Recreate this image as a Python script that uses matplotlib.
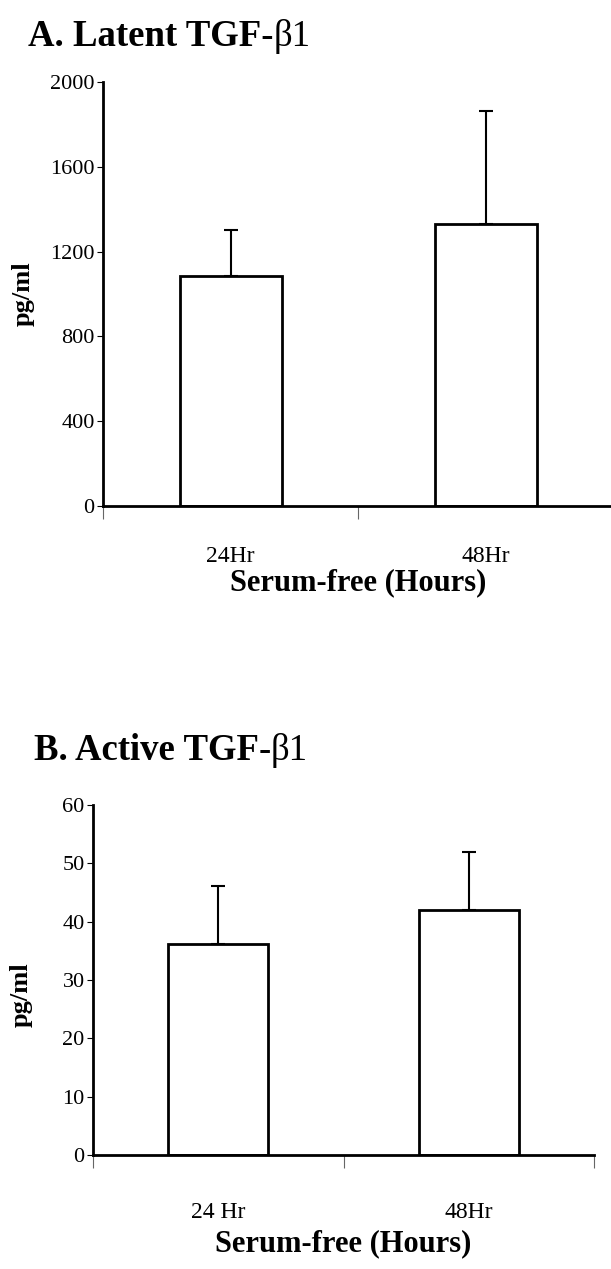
import matplotlib.pyplot as plt
import numpy as np

plt.rcParams['font.family'] = ['Liberation Serif', 'DejaVu Serif']

# data
labels_a = ['24Hr', '48Hr']
latent_mean = [1085, 1330]
latent_err = [215, 535]

labels_b = ['24 Hr', '48Hr']
active_mean = [36.2, 42.0]
active_err = [10.0, 10.0]

fig = plt.figure(figsize=(6.11, 12.69), dpi=100)


def panel(rect, means, errs, labels, ymax, step, tpad, lpad):
    ax = fig.add_axes(rect)
    x = np.array([0.5, 1.5])
    ax.bar(x, means, width=0.4, color='white', edgecolor='black', linewidth=2, zorder=2)
    ax.errorbar(x, means, yerr=[np.zeros(len(errs)), errs], fmt='none',
                ecolor='black', elinewidth=1.5, capsize=5, capthick=1.5, zorder=1)
    ax.set_xlim(0, 2)
    ax.set_ylim(0, ymax)
    ax.set_yticks(np.arange(0, ymax + 1, step))
    ax.set_xticks([0, 1, 2])
    ax.set_xticklabels([])
    ax.set_xticks(x, minor=True)
    ax.set_xticklabels(labels, minor=True)
    ax.tick_params(axis='x', which='major', length=9, width=0.8, color='#666666', direction='out')
    ax.tick_params(axis='x', which='minor', length=0, pad=tpad, labelsize=17)
    ax.tick_params(axis='y', length=4, width=0.8, labelsize=16, pad=2)
    for s in ['top', 'right']:
        ax.spines[s].set_visible(False)
    ax.spines['left'].set_linewidth(2)
    ax.spines['bottom'].set_linewidth(2)
    ax.set_xlabel('Serum-free (Hours)', fontsize=22, fontweight='bold', labelpad=lpad)
    return ax


ax1 = panel([0.1686, 0.6013, 0.8347, 0.3341], latent_mean, latent_err, labels_a, 2000, 400, 29, 1)
ax1.set_ylabel('pg/ml', fontsize=19, fontweight='bold')
ax1.yaxis.set_label_coords(-0.133, 0.5)

ax2 = panel([0.1522, 0.0898, 0.82, 0.2758], active_mean, active_err, labels_b, 60, 10, 34, 4)
ax2.set_ylabel('pg/ml', fontsize=19, fontweight='bold')
ax2.yaxis.set_label_coords(-0.12, 0.457)


def title(x, y, bold, rest):
    t = fig.text(x, y, bold, fontsize=26.5, fontweight='bold', va='baseline')
    fig.canvas.draw()
    bb = t.get_window_extent()
    x2 = bb.x1 / fig.bbox.width
    fig.text(x2, y, rest, fontsize=26.5, va='baseline')


title(0.046, 0.964, 'A. Latent TGF-', '\u03b21')
title(0.055, 0.4011, 'B. Active TGF-', '\u03b21')

fig.savefig('out.png', dpi=100)
